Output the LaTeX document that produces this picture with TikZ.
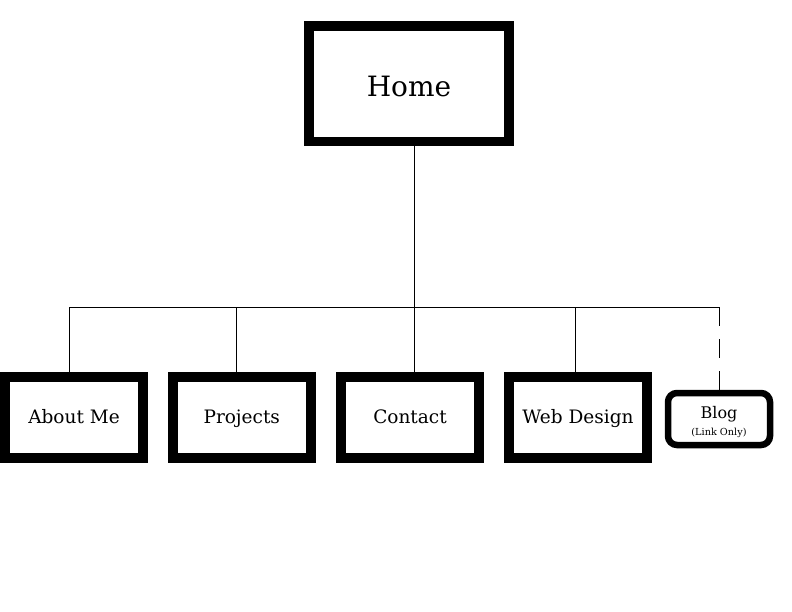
\documentclass[tikz,border=0pt]{standalone}
\usepackage{fontspec}
\setmainfont{DejaVu Serif}

\begin{document}
\begin{tikzpicture}[x=1pt,y=-1pt]
\useasboundingbox (0,0) rectangle (792,612);
\tikzset{PageBox/.style ={shape=rectangle, draw, line width=9.5pt, inner sep=0pt,
  minimum width=138pt, minimum height=81pt, text height=14pt, text depth=3pt,
  font=\fontsize{18.5}{20}\selectfont}}
\tikzset{LinkStyle/.style ={line width=1pt}}
% top page
\node[PageBox, minimum width=200pt, minimum height=115.5pt, text height=28pt, text depth=2pt,
  font=\fontsize{28}{30}\selectfont] (home) at (409,83.75) {Home};
% sub pages
\node[PageBox] (about) at (74,417.5) {About Me};
\node[PageBox] (projects) at (241.75,417.5) {Projects};
\node[PageBox] (contact) at (410,417.5) {Contact};
\node[PageBox] (webdesign) at (578,417.5) {Web Design};
\node[PageBox, rounded corners=9pt, line width=6.5pt, minimum width=102pt,
  minimum height=52pt, text height=, text depth=, font=\fontsize{16}{17}\selectfont,
  align=center] (blog) at (719,419)
  {\rule{0pt}{19pt}Blog\\[0pt]{\fontsize{9.7}{10}\selectfont (Link Only)}};
% branch points
\coordinate (hub) at (414,307);
\coordinate (jabout) at (69,307);
\coordinate (jprojects) at (236,307);
\coordinate (jweb) at (575,307);
\coordinate (jblog) at (719,307);
\draw[LinkStyle] (home.south -| hub) -- (hub);
\draw[LinkStyle] (jabout) -- (jblog);
\draw[LinkStyle] (jabout) -- (jabout |- about.north);
\draw[LinkStyle] (jprojects) -- (jprojects |- projects.north);
\draw[LinkStyle] (hub) -- (hub |- contact.north);
\draw[LinkStyle] (jweb) -- (jweb |- webdesign.north);
\draw[LinkStyle, dash pattern=on 19pt off 13pt] (jblog) -- (blog.north);
\end{tikzpicture}
\end{document}
